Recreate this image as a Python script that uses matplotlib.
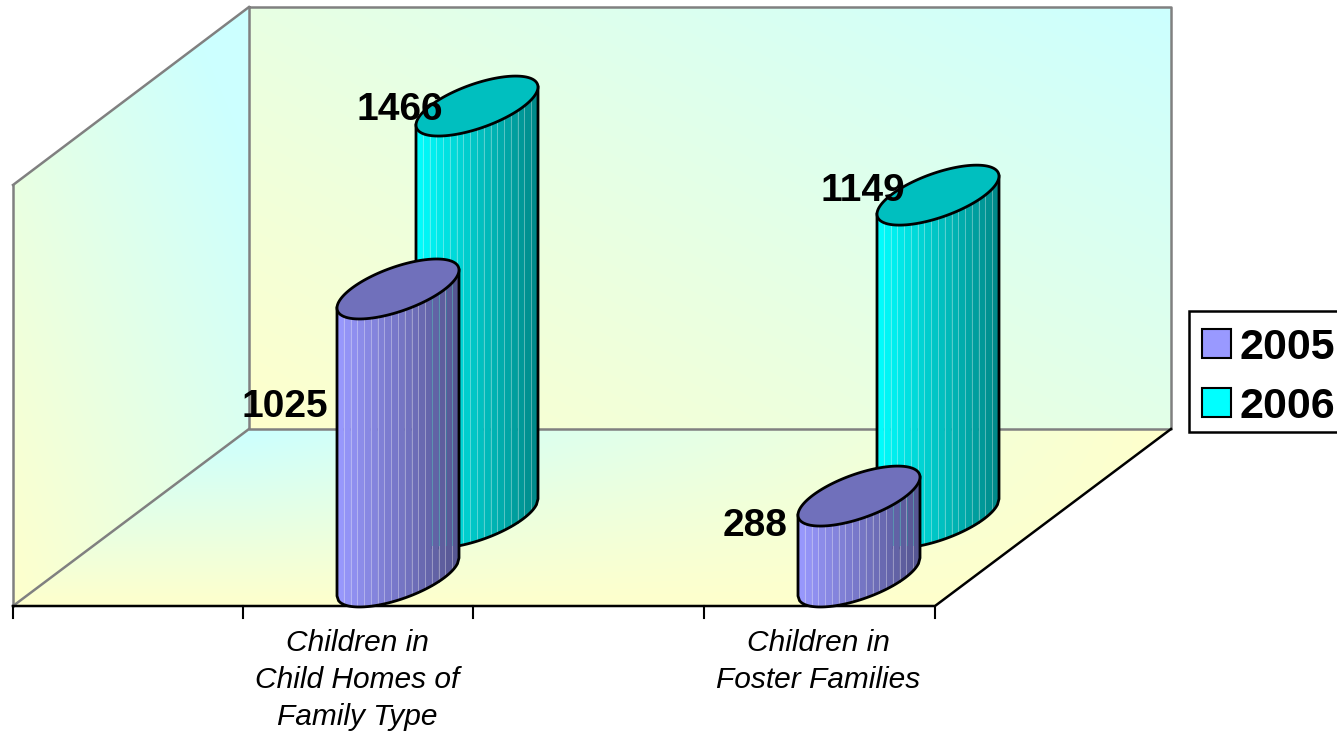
import numpy as np
import matplotlib
matplotlib.use('Agg')
import matplotlib.pyplot as plt
from matplotlib.patches import Polygon, Patch, Rectangle

plt.rcParams['font.family'] = ['Liberation Sans', 'DejaVu Sans']

# data
categories = ['Children in\nChild Homes of\nFamily Type', 'Children in\nFoster Families']
years = ['2005', '2006']
values_2005 = [1025, 288]
values_2006 = [1466, 1149]

W, H = 1337, 736
PX_PER_VAL = 0.281   # vertical scale
PX_PER_CAT = 461.0   # distance between the groups
X0, Y0 = 398, 577    # pixel of first front cylinder base
DEPTH_X, DEPTH_Y = 79, 59
RX, SKEW, RY = 61, 19, 23.2

YELLOW = np.array([255, 255, 204]) / 255
CYAN = np.array([204, 255, 255]) / 255

fig = plt.figure(figsize=(W / 100, H / 100), dpi=100)

# background in pixel coordinates
ax = fig.add_axes([0, 0, 1, 1])
ax.axis('off')


def gradient_wall(pts, t_func):
    xx, yy = np.meshgrid(np.arange(W), np.arange(H))
    t = np.clip(t_func(xx, yy), 0, 1)[..., None]
    img = YELLOW * (1 - t) + CYAN * t
    im = ax.imshow(img, extent=(0, W, H, 0), aspect='auto', zorder=1)
    im.set_clip_path(Polygon(pts, transform=ax.transData))


back = [(249, 7), (1171, 7), (1171, 429), (249, 429)]
left = [(13, 185), (249, 7), (249, 429), (13, 606)]
floor = [(249, 429), (1171, 429), (935, 606), (13, 606)]
gradient_wall(back, lambda x, y: ((x - 249) / 922 * 0.55 + (429 - y) / 422 * 0.45))
gradient_wall(left, lambda x, y: ((x - 13) / 236 * 0.55 + (606 - y) / 600 * 0.6))
gradient_wall(floor, lambda x, y: (1 - (y - 429) / 177) * (1 - np.clip((x - 249) / 922, 0, 1)))
ax.set_xlim(0, W)
ax.set_ylim(H, 0)

GRAY = '#808080'
ax.plot([249, 1171, 1171, 249, 249], [7, 7, 429, 429, 7], color=GRAY, lw=1.8, zorder=2)
ax.plot([13, 249], [185, 7], color=GRAY, lw=1.8, zorder=2)
ax.plot([13, 13], [185, 606], color=GRAY, lw=1.8, zorder=2)
ax.plot([13, 249], [606, 429], color=GRAY, lw=1.8, zorder=2)
ax.plot([13, 935, 1171], [606, 606, 429], color='black', lw=1.8, zorder=2)
for tx in [13, 243, 473, 704, 935]:
    ax.plot([tx, tx], [606, 618], color='black', lw=1.5, zorder=2)

# cylinders in value coordinates: x = category index, y = value
ax_val = fig.add_axes([0, 0, 1, 1])
ax_val.axis('off')
ax_val.patch.set_alpha(0)
ax_val.set_xlim(-X0 / PX_PER_CAT, (W - X0) / PX_PER_CAT)
ax_val.set_ylim(-(H - Y0) / PX_PER_VAL, Y0 / PX_PER_VAL)


def to_x(dx):
    return dx / PX_PER_CAT


def to_y(dy):
    return dy / PX_PER_VAL


def lower_arc(dx):
    c = dx / RX
    s = -np.sqrt(np.clip(1 - c * c, 0, 1))
    return SKEW * c + RY * s


def cylinder(cat, value, dx0, dy0, col_l, col_r, col_top, z):
    cx = cat + to_x(dx0)
    base = to_y(dy0)
    top = base + value
    n = 18
    edges = np.linspace(-RX, RX, n + 1)
    for i in range(n):
        sub = np.linspace(edges[i], edges[i + 1], 6)
        t = (i + 0.5) / n
        col = np.array(col_l) * (1 - t) + np.array(col_r) * t
        xs = cx + to_x(sub)
        ys = base + to_y(lower_arc(sub))
        ts = top + to_y(lower_arc(sub))
        ax_val.fill(np.r_[xs, xs[::-1]], np.r_[ys, ts[::-1]], color=col, lw=0.3, zorder=z)
        if i > 0:
            light = col * 0.65 + 0.35
            ax_val.plot([xs[0], xs[0]], [ys[0], ts[0]], color=light, lw=0.7, zorder=z + 0.1)
    # outline of the body
    sub = np.linspace(-RX, RX, 80)
    ox = cx + to_x(sub)
    oy = base + to_y(lower_arc(sub))
    ax_val.plot(np.r_[ox[0], ox, ox[-1]],
                np.r_[top - to_y(SKEW), oy, top + to_y(SKEW)],
                color='black', lw=2.0, zorder=z + 0.2)
    # top face
    a = np.linspace(0, 2 * np.pi, 120)
    ex = cx + to_x(RX * np.cos(a))
    ey = top + to_y(SKEW * np.cos(a) + RY * np.sin(a))
    ax_val.fill(ex, ey, facecolor=col_top, edgecolor='black', lw=2.0, zorder=z + 0.3)


PURPLE_L, PURPLE_R, PURPLE_TOP = (0.6, 0.6, 1.0), (0.33, 0.33, 0.56), '#7070BB'
TEAL_L, TEAL_R, TEAL_TOP = (0.0, 1.0, 1.0), (0.0, 0.53, 0.53), '#00BFBF'

for i in range(len(categories)):
    cylinder(i, values_2006[i], DEPTH_X, DEPTH_Y, TEAL_L, TEAL_R, TEAL_TOP, 3)
    cylinder(i, values_2005[i], 0, 0, PURPLE_L, PURPLE_R, PURPLE_TOP, 5)
    # back facets showing faintly through the front cylinder
    for dx in np.arange(34, 60, 6.8):
        ax_val.plot([i + to_x(dx)] * 2, [to_y(32), values_2005[i] + to_y(lower_arc(dx))],
                    color='#2A8FA0', lw=0.7, alpha=0.55, zorder=5.15)

ax.set_zorder(0)
ax_val.set_zorder(1)

# texts sit above the cylinders
ax_txt = fig.add_axes([0, 0, 1, 1])
ax_txt.axis('off')
ax_txt.patch.set_alpha(0)
ax_txt.set_xlim(0, W)
ax_txt.set_ylim(H, 0)
ax_txt.set_zorder(2)

for val, (x, y) in zip(values_2006 + values_2005, [(443, 110), (905, 191), (328, 407), (788, 526)]):
    ax_txt.text(x, y, str(val), ha='right', va='center', fontsize=28, fontweight='bold')

for cat, x in zip(categories, [357, 818]):
    ax_txt.text(x, 629, cat, ha='center', va='top', fontsize=21.5, style='italic', linespacing=1.41)

# legend box runs off the right edge of the figure
ax_txt.add_patch(Rectangle((1189, 311), 160, 121, facecolor='white', edgecolor='black', lw=1.8))
handles = [Patch(facecolor='#9999FF', edgecolor='black', lw=1.5),
           Patch(facecolor='#00FFFF', edgecolor='black', lw=1.5)]
leg = ax_txt.legend(handles, years, loc='upper left', bbox_to_anchor=(1190 / W, 1 - 316 / H),
                    prop={'size': 31, 'weight': 'bold'}, frameon=False,
                    handlelength=0.68, handleheight=0.66,
                    handletextpad=0.2, labelspacing=0.44, borderpad=0.28, borderaxespad=0)

fig.savefig('out.png', dpi=100)
